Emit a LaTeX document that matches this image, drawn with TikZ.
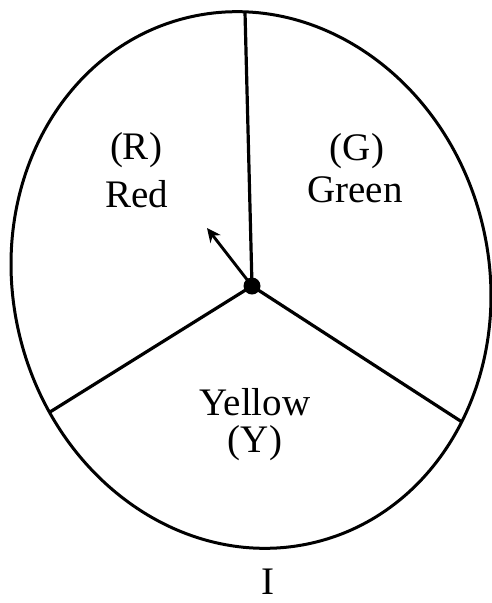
\documentclass[tikz,border=0pt]{standalone}
\usepackage{fontspec}
\setmainfont{Liberation Serif}
\usetikzlibrary{arrows.meta}
\tikzset{
  rim/.style={line width=3pt},
  spoke/.style={line width=3.2pt},
  pointer/.style={line width=2.9pt,-{Stealth[length=14pt,width=13pt]}},
  lab/.style={anchor=base,inner sep=0pt,font=\fontsize{39}{42}\selectfont},
  hub/.style={circle,fill=black,inner sep=0pt,minimum size=17pt}
}
\begin{document}
\begin{tikzpicture}[x=1pt,y=-1pt]
\useasboundingbox (0,0) rectangle (492,603);
\draw[rim,rotate around={13.8:(251,280)}] (251,280) ellipse [x radius=238pt, y radius=270pt];
\node[hub] (c) at (252,286) {};
\coordinate (top) at (245,12);
\coordinate (left) at (50,412);
\coordinate (right) at (462,422);
\coordinate (tip) at (207,228);
\draw[spoke] (c.center) -- (top);
\draw[spoke] (c.center) -- (left);
\draw[spoke] (c.center) -- (right);
\draw[pointer] (c.center) -- (tip);
\node[lab] (r1) at (136,159) {(R)};
\node[lab] (r2) at (137,207) {Red};
\node[lab] (g1) at (357,160) {(G)};
\node[lab] (g2) at (355,202) {Green};
\node[lab] (y1) at (255,415) {Yellow};
\node[lab] (y2) at (255,452) {(Y)};
\node[lab] (i) at (268,594) {I};
\end{tikzpicture}
\end{document}
